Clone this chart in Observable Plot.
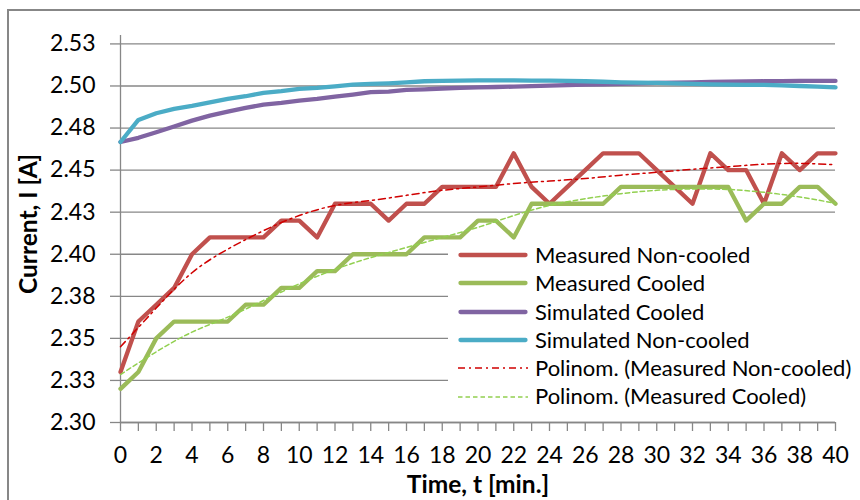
<!DOCTYPE html>
<html><head><meta charset="utf-8">
<script src="https://cdn.jsdelivr.net/npm/d3@7"></script>
<script src="https://cdn.jsdelivr.net/npm/@observablehq/plot@0.6"></script>
<style>
html,body{margin:0;padding:0;background:#fff;overflow:hidden}
#wrap{position:relative;width:860px;height:500px;overflow:hidden;font-family:Lato,sans-serif}
#wrap svg.plot{position:absolute;left:0;top:0}
#frame{position:absolute;left:7px;top:9px;width:1000px;height:1000px;border-left:2px solid #878787;border-top:2px solid #878787;pointer-events:none}
#legend{position:absolute;left:448px;top:241px;width:412px;background:#fff}
.row{display:flex;align-items:center;height:28.3px}
.row svg{margin-left:10px;margin-right:7px;flex:none}
.row span{font-size:22px;line-height:28.3px;white-space:nowrap;color:#000}
</style></head><body><div id="wrap"><div id="frame"></div></div>
<script>
// ---- data ----
const minutes = [0,1,2,3,4,5,6,7,8,9,10,11,12,13,14,15,16,17,18,19,20,21,22,23,24,25,26,27,28,29,30,31,32,33,34,35,36,37,38,39,40];
const measuredNonCooled = [2.33,2.36,2.37,2.38,2.40,2.41,2.41,2.41,2.41,2.42,2.42,2.41,2.43,2.43,2.43,2.42,2.43,2.43,2.44,2.44,2.44,2.44,2.46,2.44,2.43,2.44,2.45,2.46,2.46,2.46,2.45,2.44,2.43,2.46,2.45,2.45,2.43,2.46,2.45,2.46,2.46];
const measuredCooled = [2.32,2.33,2.35,2.36,2.36,2.36,2.36,2.37,2.37,2.38,2.38,2.39,2.39,2.40,2.40,2.40,2.40,2.41,2.41,2.41,2.42,2.42,2.41,2.43,2.43,2.43,2.43,2.43,2.44,2.44,2.44,2.44,2.44,2.44,2.44,2.42,2.43,2.43,2.44,2.44,2.43];
const simulatedCooled = [2.4667,2.4692,2.4725,2.4759,2.4794,2.4824,2.4848,2.4870,2.4889,2.4899,2.4913,2.4923,2.4937,2.4949,2.4963,2.4967,2.4977,2.4980,2.4985,2.4989,2.4992,2.4994,2.4996,2.4999,2.5002,2.5005,2.5008,2.5010,2.5012,2.5015,2.5018,2.5020,2.5022,2.5024,2.5026,2.5027,2.5028,2.5029,2.5030,2.5030,2.5030];
const simulatedNonCooled = [2.4667,2.4798,2.4838,2.4864,2.4882,2.4903,2.4923,2.4939,2.4959,2.4969,2.4983,2.4989,2.4998,2.5008,2.5012,2.5016,2.5022,2.5028,2.5030,2.5032,2.5033,2.5033,2.5033,2.5032,2.5032,2.5030,2.5028,2.5025,2.5022,2.5020,2.5018,2.5015,2.5012,2.5010,2.5008,2.5007,2.5006,2.5003,2.5000,2.4996,2.4992];
const trendMinutes = [0,2,4,6,8,10,12,14,16,18,20,22,24,26,28,30,32,34,36,38,40];
const trendNonCooled = [2.345,2.368,2.389,2.403,2.414,2.423,2.429,2.432,2.435,2.438,2.440,2.442,2.4435,2.445,2.447,2.4487,2.4505,2.452,2.4535,2.454,2.4532];
const trendCooled = [2.3285,2.342,2.3537,2.3626,2.3725,2.3824,2.391,2.398,2.404,2.410,2.416,2.423,2.429,2.433,2.436,2.438,2.4388,2.4385,2.4368,2.434,2.4303];
const yTicks = [2.300,2.325,2.350,2.375,2.400,2.425,2.450,2.475,2.500,2.525];
const yTickLabels = ["2.30","2.33","2.35","2.38","2.40","2.43","2.45","2.48","2.50","2.53"];
const xTickLabels = ["0","2","4","6","8","10","12","14","16","18","20","22","24","26","28","30","32","34","36","38","40"];
const seriesNames = ["Measured Non-cooled","Measured Cooled","Simulated Cooled","Simulated Non-cooled","Polinom. (Measured Non-cooled)","Polinom. (Measured Cooled)"];
const xTitle = "Time, t [min.]";
const yTitle = "Current, I [A]";

// ---- styles ----
const styles = [
  {stroke:"#C0504D", width:4.3},
  {stroke:"#9BBB59", width:4.3},
  {stroke:"#8064A2", width:4.3},
  {stroke:"#4BACC6", width:4.3},
  {stroke:"#D00000", width:1.5, dash:"7,4,2,4"},
  {stroke:"#92D050", width:1.5, dash:"4.5,3"}
];
const gridColor = "#878787";

const rows = arr => minutes.map((t, i) => ({t, v: arr[i]}));
const trows = arr => trendMinutes.map((t, i) => ({t, v: arr[i]}));
const solid = (arr, s) => Plot.line(rows(arr), {x:"t", y:"v", stroke:s.stroke, strokeWidth:s.width, strokeLinejoin:"round", strokeLinecap:"round"});
const trend = (arr, s) => Plot.line(trows(arr), {x:"t", y:"v", stroke:s.stroke, strokeWidth:s.width, strokeDasharray:s.dash, curve:"natural"});

const chart = Plot.plot({
  width: 860, height: 500,
  marginLeft: 120, marginRight: 25, marginTop: 35, marginBottom: 78,
  style: {fontFamily: "Lato, sans-serif", fontSize: "23px", color: "#000", background: "transparent"},
  x: {domain: [0, 40]},
  y: {domain: [2.30, 2.53]},
  marks: [
    Plot.gridY({ticks: yTicks, stroke: gridColor, strokeOpacity: 1, strokeWidth: 1.3}),
    Plot.ruleX([0], {stroke: gridColor, strokeWidth: 1.3}),
    Plot.ruleY([2.30], {stroke: gridColor, strokeWidth: 1.3}),
    Plot.axisY({ticks: yTicks, tickFormat: d => yTickLabels[yTicks.findIndex(v => Math.abs(v - d) < 1e-9)], tickSize: 10, tickPadding: 15, stroke: gridColor, strokeWidth: 1.3, strokeOpacity: 1, fill: "#000", fontSize: 23, label: null}),
    Plot.axisX({ticks: minutes, tickFormat: d => xTickLabels.includes(String(d)) ? String(d) : "", tickSize: 9, tickPadding: 15, stroke: gridColor, strokeWidth: 1.3, strokeOpacity: 1, fill: "#000", fontSize: 23, label: null}),
    Plot.text([xTitle], {frameAnchor: "bottom", textAnchor: "middle", lineAnchor: "bottom", dy: 70, fontWeight: "bold", fontSize: 24.5, fill: "#000"}),
    Plot.text([yTitle], {frameAnchor: "left", textAnchor: "middle", lineAnchor: "middle", dx: -91, dy: -5, rotate: -90, fontWeight: "bold", fontSize: 24.5, fill: "#000"}),
    solid(measuredNonCooled, styles[0]),
    solid(measuredCooled, styles[1]),
    solid(simulatedCooled, styles[2]),
    solid(simulatedNonCooled, styles[3]),
    trend(trendNonCooled, styles[4]),
    trend(trendCooled, styles[5])
  ]
});
const wrap = document.getElementById("wrap");
wrap.insertBefore(chart, wrap.firstChild);

// legend overlay
const legend = document.createElement("div");
legend.id = "legend";
seriesNames.forEach((name, i) => {
  const s = styles[i];
  const row = document.createElement("div");
  row.className = "row";
  const dash = s.dash ? `stroke-dasharray="${s.dash}"` : "";
  const cap = s.dash ? "butt" : "round";
  row.innerHTML = `<svg width="70" height="10"><line x1="${s.dash?0:2.5}" x2="${s.dash?70:67.5}" y1="5" y2="5" stroke="${s.stroke}" stroke-width="${s.width}" stroke-linecap="${cap}" ${dash}/></svg><span></span>`;
  row.querySelector("span").textContent = name;
  legend.appendChild(row);
});
wrap.appendChild(legend);
</script></body></html>
